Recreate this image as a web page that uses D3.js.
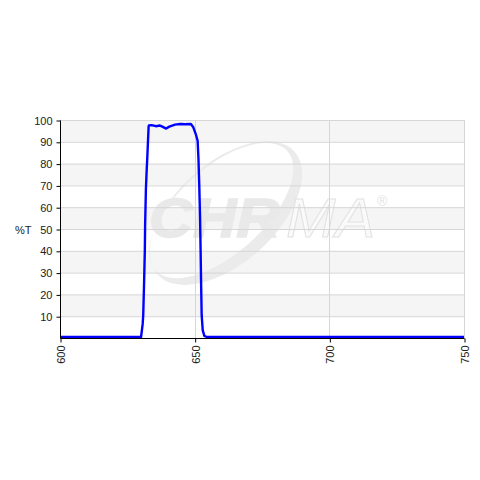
<!DOCTYPE html>
<html>
<head>
<meta charset="utf-8">
<script src="https://cdn.jsdelivr.net/npm/d3@7"></script>
<style>
  body { margin: 0; background: #fff; }
  svg { display: block; }
  .axis text { font-family: "Liberation Sans", Arial, sans-serif; font-size: 11px; fill: #222; }
</style>
</head>
<body>
<div id="chart"></div>
<script>
// transmission curve
const wavelength = [600, 610, 620, 630.1, 630.7, 630.9, 631.2, 631.5, 631.6, 631.9, 632.2, 632.4, 632.9,
  633.0, 634.0, 635.6, 637.1, 638.0, 639.4, 640.6, 642.7, 644.6, 646.4, 648.6, 649.5, 650.4,
  651.1, 651.4, 651.7, 652.0, 652.2, 652.4, 652.6, 653.0, 653.6, 654.5, 660, 680, 700, 720, 750];
const transmission = [0, 0, 0, 0, 6, 10, 24, 40, 51, 68, 77, 82, 96.5,
  97, 97.2, 96.7, 97, 96.5, 95.6, 96.5, 97.4, 97.7, 97.6, 97.7, 96.2, 93.1,
  90, 82, 70, 55, 40, 24, 10, 3, 0.5, 0, 0, 0, 0, 0, 0];
const yTicks = [10, 20, 30, 40, 50, 60, 70, 80, 90, 100];
const xTicks = [600, 650, 700, 750];
const xGrid = [650, 700, 750];

const width = 480, height = 480;
const margin = { left: 60, right: 16, top: 120, bottom: 142 };

const svg = d3.select("#chart").append("svg")
  .attr("width", width)
  .attr("height", height);

const x = d3.scaleLinear().domain([600, 750]).range([margin.left, width - margin.right]);
const y = d3.scaleLinear().domain([0, 100]).range([height - margin.bottom, margin.top]);

// alternating bands
const bands = d3.range(0, 100, 10);
svg.selectAll(".band")
  .data(bands)
  .join("rect")
  .attr("x", x(600))
  .attr("width", x(750) - x(600))
  .attr("y", (d) => y(d + 10))
  .attr("height", (d) => y(d) - y(d + 10))
  .attr("fill", (d) => ((d / 10) % 2 === 1 ? "#f5f5f5" : "#ffffff"));

// watermark (swoosh + lettering)
const wm = svg.append("g").attr("class", "watermark");
function ellipsePath(cx, cy, rx, ry) {
  return `M${cx - rx},${cy}a${rx},${ry} 0 1,0 ${2 * rx},0a${rx},${ry} 0 1,0 ${-2 * rx},0Z`;
}
wm.append("path")
  .attr("transform", "translate(226,213) rotate(-42)")
  .attr("d", ellipsePath(0, 0, 92, 50) + ellipsePath(-2, -5, 89, 43))
  .attr("fill-rule", "evenodd")
  .attr("fill", "#ebebeb");
wm.append("text")
  .attr("transform", "translate(149,237) scale(1.1,1)")
  .attr("font-family", "Liberation Sans, Arial, sans-serif")
  .attr("font-size", 55)
  .attr("font-weight", "bold")
  .attr("font-style", "italic")
  .attr("fill", "#e9e9e9")
  .attr("stroke", "#e9e9e9")
  .attr("stroke-width", 1.5)
  .text("CHR");
wm.append("text")
  .attr("transform", "translate(286,237) scale(1.08,1)")
  .attr("font-family", "Liberation Sans, Arial, sans-serif")
  .attr("font-size", 55)
  .attr("font-style", "italic")
  .attr("fill", "#fafafa")
  .attr("stroke", "#e2e2e2")
  .attr("stroke-width", 1)
  .text("MA");
wm.append("text")
  .attr("x", 377)
  .attr("y", 206)
  .attr("font-family", "Liberation Sans, Arial, sans-serif")
  .attr("font-size", 14)
  .attr("fill", "#e4e4e4")
  .text("®");

// grid lines
svg.selectAll(".hgrid")
  .data(yTicks)
  .join("line")
  .attr("x1", x(600))
  .attr("x2", x(750))
  .attr("y1", (d) => y(d) + 0.5)
  .attr("y2", (d) => y(d) + 0.5)
  .attr("stroke", "#d6d6d6");

svg.selectAll(".vgrid")
  .data(xGrid)
  .join("line")
  .attr("x1", (d) => Math.round(x(d)) + 0.5)
  .attr("x2", (d) => Math.round(x(d)) + 0.5)
  .attr("y1", y(100))
  .attr("y2", y(0))
  .attr("stroke", "#d6d6d6");

// curve
const line = d3.line()
  .x((d, i) => x(wavelength[i]))
  .y((d) => y(d) - 1);

svg.append("path")
  .datum(transmission)
  .attr("d", line)
  .attr("fill", "none")
  .attr("stroke", "#0000ff")
  .attr("stroke-width", 2.4)
  .attr("stroke-linejoin", "round");

// axes
const yAxis = svg.append("g")
  .attr("class", "axis")
  .attr("transform", `translate(${x(600) + 0.5},0.5)`)
  .call(d3.axisLeft(y).tickValues(yTicks).tickSize(4).tickPadding(4));
yAxis.select(".domain").attr("stroke", "#000").attr("d", `M0,${y(100)}V${y(0)}`);

const xAxis = svg.append("g")
  .attr("class", "axis")
  .attr("transform", `translate(0.5,${y(0) + 0.5})`)
  .call(d3.axisBottom(x).tickValues(xTicks).tickSize(4));
xAxis.select(".domain").attr("stroke", "#000").attr("d", `M${x(600)},0H${x(750)}`);
xAxis.selectAll(".tick text")
  .attr("transform", "rotate(-90)")
  .attr("text-anchor", "end")
  .attr("x", -7)
  .attr("y", 0)
  .attr("dy", "0.35em");

svg.append("text")
  .attr("x", 15)
  .attr("y", 234)
  .attr("font-family", "Liberation Sans, Arial, sans-serif")
  .attr("font-size", 11)
  .attr("fill", "#222")
  .text("%T");
</script>
</body>
</html>
